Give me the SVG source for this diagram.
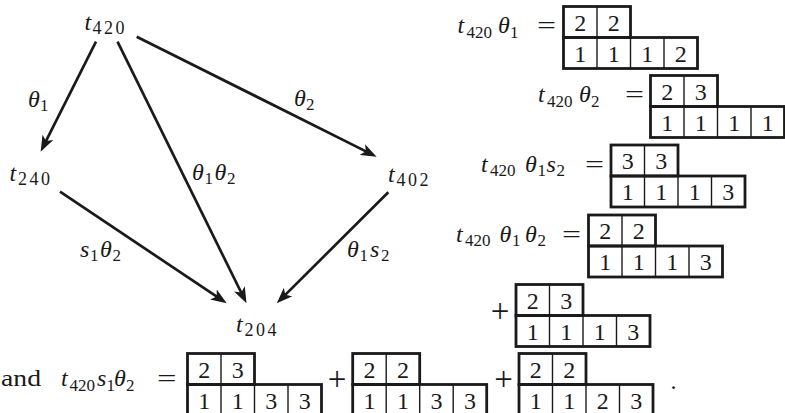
<svg xmlns="http://www.w3.org/2000/svg" xmlns:xlink="http://www.w3.org/1999/xlink" width="785" height="413" viewBox="0 0 785 413">
<style>
text{font-family:"Liberation Serif","DejaVu Serif",serif;fill:#1a1a1a;font-size:24px}
.i{font-style:italic}
.s{font-size:17px;font-style:normal}
.gs{font-size:18px;font-style:normal;letter-spacing:2.5px}
.d{text-anchor:middle;font-size:24px}
.op{font-size:24px}
.pl{font-size:33px;text-anchor:middle}
.thick{fill:none;stroke:#1a1a1a;stroke-width:2.8}
.thin{fill:none;stroke:#1a1a1a;stroke-width:1.4}
.edge{fill:none;stroke:#1a1a1a;stroke-width:2.7}
</style>
<defs>
<marker id="ah" viewBox="0 0 16 12" refX="9" refY="6" markerWidth="16" markerHeight="12" markerUnits="userSpaceOnUse" orient="auto">
<path d="M0,0 L16,6 L0,12 L4,6 z" fill="#1a1a1a"/>
</marker>
<g id="frame">
<rect class="thick" x="0" y="0" width="67" height="31"/>
<rect class="thick" x="0" y="31" width="134" height="31"/>
<path class="thin" d="M33.5,0V31M33.5,31V62M67,31V62M100.5,31V62"/>
</g>
</defs>

<!-- graph -->
<g id="connectors">
<line class="edge" x1="96" y1="41.7" x2="43.8" y2="145.4" marker-end="url(#ah)"/>
<line class="edge" x1="117.5" y1="41.7" x2="243.4" y2="297.0" marker-end="url(#ah)"/>
<line class="edge" x1="136.7" y1="36.7" x2="370.4" y2="153.6" marker-end="url(#ah)"/>
<line class="edge" x1="60" y1="191.7" x2="220.9" y2="299.4" marker-end="url(#ah)"/>
<line class="edge" x1="388.3" y1="192.3" x2="281.7" y2="298.4" marker-end="url(#ah)"/>
<text class="i"><tspan x="28" y="107">θ</tspan><tspan class="s" x="40" y="111">1</tspan></text>
<text class="i"><tspan x="294" y="105.5">θ</tspan><tspan class="s" x="306" y="109.5">2</tspan></text>
<text class="i"><tspan x="192" y="180">θ</tspan><tspan class="s" x="204.5" y="184">1</tspan><tspan x="214.5" y="180">θ</tspan><tspan class="s" x="227" y="184">2</tspan></text>
<text class="i"><tspan x="80" y="257">s</tspan><tspan class="s" x="90" y="261">1</tspan><tspan x="100" y="257">θ</tspan><tspan class="s" x="112.5" y="261">2</tspan></text>
<text class="i"><tspan x="347" y="257">θ</tspan><tspan class="s" x="359.5" y="261">1</tspan><tspan x="370" y="257">s</tspan><tspan class="s" x="381" y="261">2</tspan></text>
</g>
<g id="node-t420"><text class="i"><tspan x="84.5" y="30">t</tspan><tspan class="gs" x="92.5" y="34">420</tspan></text></g>
<g id="node-t240"><text class="i"><tspan x="9.5" y="181">t</tspan><tspan class="gs" x="18" y="185">240</tspan></text></g>
<g id="node-t402"><text class="i"><tspan x="388" y="181.5">t</tspan><tspan class="gs" x="396.5" y="185.5">402</tspan></text></g>
<g id="node-t204"><text class="i"><tspan x="236" y="331.5">t</tspan><tspan class="gs" x="244.5" y="335.5">204</tspan></text></g>

<!-- equation 1 -->
<g id="eq1">
<text class="i"><tspan x="457.5" y="33">t</tspan><tspan class="s" x="466.5" y="37.5">420</tspan><tspan x="498" y="33">θ</tspan><tspan class="s" x="510" y="37.5">1</tspan></text>
<text class="op" x="537" y="33" textLength="19" lengthAdjust="spacingAndGlyphs">=</text>
<use xlink:href="#frame" x="563.5" y="6.5"/>
<g transform="translate(563.5,6.5)">
<text class="d" x="16.75" y="24">2</text><text class="d" x="50.25" y="24">2</text>
<text class="d" x="16.75" y="55">1</text><text class="d" x="50.25" y="55">1</text><text class="d" x="83.75" y="55">1</text><text class="d" x="117.25" y="55">2</text>
</g>
</g>

<!-- equation 2 -->
<g id="eq2">
<text class="i"><tspan x="538" y="102">t</tspan><tspan class="s" x="547" y="106.5">420</tspan><tspan x="579" y="102">θ</tspan><tspan class="s" x="591" y="106.5">2</tspan></text>
<text class="op" x="625" y="102" textLength="19" lengthAdjust="spacingAndGlyphs">=</text>
<use xlink:href="#frame" x="650.5" y="75.5"/>
<g transform="translate(650.5,75.5)">
<text class="d" x="16.75" y="24">2</text><text class="d" x="50.25" y="24">3</text>
<text class="d" x="16.75" y="55">1</text><text class="d" x="50.25" y="55">1</text><text class="d" x="83.75" y="55">1</text><text class="d" x="117.25" y="55">1</text>
</g>
</g>

<!-- equation 3 -->
<g id="eq3">
<text class="i"><tspan x="481" y="171.5">t</tspan><tspan class="s" x="490" y="176">420</tspan><tspan x="525" y="171.5">θ</tspan><tspan class="s" x="537.5" y="176">1</tspan><tspan x="546.5" y="171.5">s</tspan><tspan class="s" x="556.5" y="176">2</tspan></text>
<text class="op" x="585" y="171.5" textLength="19" lengthAdjust="spacingAndGlyphs">=</text>
<use xlink:href="#frame" x="611" y="145"/>
<g transform="translate(611,145)">
<text class="d" x="16.75" y="24">3</text><text class="d" x="50.25" y="24">3</text>
<text class="d" x="16.75" y="55">1</text><text class="d" x="50.25" y="55">1</text><text class="d" x="83.75" y="55">1</text><text class="d" x="117.25" y="55">3</text>
</g>
</g>

<!-- equation 4 -->
<g id="eq4">
<text class="i"><tspan x="456" y="241.5">t</tspan><tspan class="s" x="465" y="246">420</tspan><tspan x="499.5" y="241.5">θ</tspan><tspan class="s" x="512" y="246">1</tspan><tspan x="525" y="241.5">θ</tspan><tspan class="s" x="537.5" y="246">2</tspan></text>
<text class="op" x="562" y="241.5" textLength="19" lengthAdjust="spacingAndGlyphs">=</text>
<use xlink:href="#frame" x="588.5" y="215"/>
<g transform="translate(588.5,215)">
<text class="d" x="16.75" y="24">2</text><text class="d" x="50.25" y="24">2</text>
<text class="d" x="16.75" y="55">1</text><text class="d" x="50.25" y="55">1</text><text class="d" x="83.75" y="55">1</text><text class="d" x="117.25" y="55">3</text>
</g>
<text class="pl" x="500" y="321.5">+</text>
<use xlink:href="#frame" x="516" y="284.5"/>
<g transform="translate(516,284.5)">
<text class="d" x="16.75" y="24">2</text><text class="d" x="50.25" y="24">3</text>
<text class="d" x="16.75" y="55">1</text><text class="d" x="50.25" y="55">1</text><text class="d" x="83.75" y="55">1</text><text class="d" x="117.25" y="55">3</text>
</g>
</g>

<!-- bottom line -->
<g id="eq5">
<text x="1" y="386" textLength="40" lengthAdjust="spacingAndGlyphs">and</text>
<text class="i"><tspan x="61" y="386">t</tspan><tspan class="s" x="69.5" y="390.5">420</tspan><tspan x="97" y="386">s</tspan><tspan class="s" x="106.5" y="390.5">1</tspan><tspan x="114" y="386">θ</tspan><tspan class="s" x="126" y="390.5">2</tspan></text>
<text class="op" x="157" y="386" textLength="19.5" lengthAdjust="spacingAndGlyphs">=</text>
<use xlink:href="#frame" x="187.5" y="353.5"/>
<g transform="translate(187.5,353.5)">
<text class="d" x="16.75" y="24">2</text><text class="d" x="50.25" y="24">3</text>
<text class="d" x="16.75" y="55">1</text><text class="d" x="50.25" y="55">1</text><text class="d" x="83.75" y="55">3</text><text class="d" x="117.25" y="55">3</text>
</g>
<text class="pl" x="337" y="390">+</text>
<use xlink:href="#frame" x="352.7" y="353.5"/>
<g transform="translate(352.7,353.5)">
<text class="d" x="16.75" y="24">2</text><text class="d" x="50.25" y="24">2</text>
<text class="d" x="16.75" y="55">1</text><text class="d" x="50.25" y="55">1</text><text class="d" x="83.75" y="55">3</text><text class="d" x="117.25" y="55">3</text>
</g>
<text class="pl" x="503.5" y="390">+</text>
<use xlink:href="#frame" x="519" y="353.5"/>
<g transform="translate(519,353.5)">
<text class="d" x="16.75" y="24">2</text><text class="d" x="50.25" y="24">2</text>
<text class="d" x="16.75" y="55">1</text><text class="d" x="50.25" y="55">1</text><text class="d" x="83.75" y="55">2</text><text class="d" x="117.25" y="55">3</text>
</g>
<text x="670.5" y="389">.</text>
</g>
</svg>
